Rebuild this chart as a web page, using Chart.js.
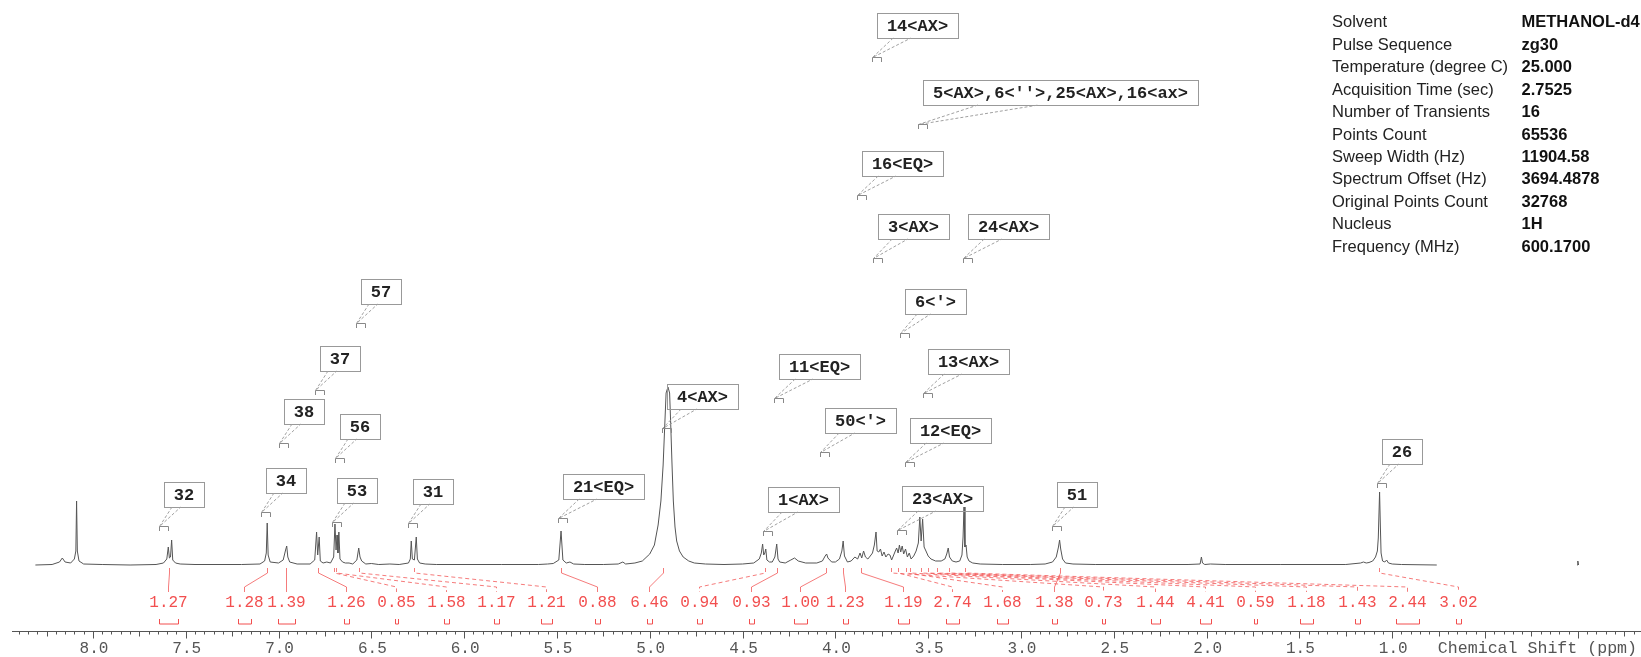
<!DOCTYPE html>
<html>
<head>
<meta charset="utf-8">
<title>1H NMR spectrum</title>
<script src="https://cdn.jsdelivr.net/npm/chart.js@4.4.1/dist/chart.umd.min.js"></script>
<style>
  html, body { margin: 0; padding: 0; background: #ffffff; }
  #wrap { width: 1641px; height: 657px; position: relative; }
</style>
</head>
<body>
<div id="wrap"><canvas id="nmr-chart" width="1641" height="657"></canvas></div>
<script>
// spectrum trace (ppm, intensity above baseline)
const shiftPpm = [
  8.31, 8.22, 8.18, 8.165, 8.15, 8.12, 8.10, 8.092, 8.088, 8.084, 8.075, 8.05, 7.95, 7.80,
  7.66, 7.62, 7.602, 7.594, 7.588, 7.582, 7.576, 7.570, 7.555, 7.53, 7.45, 7.20,
  7.10, 7.075, 7.066, 7.061, 7.056, 7.045, 7.00, 6.975, 6.962, 6.956, 6.950, 6.94, 6.90,
  6.83, 6.805, 6.795, 6.789, 6.781, 6.775, 6.76, 6.74, 6.72, 6.703, 6.696, 6.690, 6.685,
  6.680, 6.675, 6.669, 6.655, 6.64, 6.62, 6.60, 6.578, 6.568, 6.561, 6.552, 6.53, 6.50,
  6.46, 6.40, 6.35, 6.30, 6.290, 6.285, 6.279, 6.268, 6.258, 6.252, 6.24, 6.21, 6.15,
  5.80, 5.60, 5.55, 5.52, 5.49, 5.478, 5.468, 5.45, 5.43, 5.41, 5.35, 5.25, 5.17, 5.145,
  5.13, 5.08, 5.04, 5.00, 4.975, 4.955, 4.94, 4.928, 4.918, 4.912, 4.902, 4.893, 4.887,
  4.880, 4.873, 4.864, 4.855, 4.84, 4.82, 4.79, 4.76, 4.70, 4.60, 4.50, 4.44, 4.41,
  4.399, 4.392, 4.386, 4.380, 4.375, 4.369, 4.355, 4.34, 4.326, 4.316, 4.309, 4.30, 4.27,
  4.24, 4.22, 4.20, 4.16, 4.10, 4.07, 4.055, 4.047, 4.040, 4.02, 4.00, 3.978, 3.965,
  3.958, 3.951, 3.935, 3.915, 3.895, 3.880, 3.867, 3.858, 3.848, 3.838, 3.825, 3.812,
  3.800, 3.790, 3.781, 3.775, 3.766, 3.757, 3.748, 3.738, 3.728, 3.716, 3.706, 3.697,
  3.688, 3.677, 3.670, 3.662, 3.655, 3.648, 3.640, 3.632, 3.622, 3.612, 3.602, 3.592,
  3.578, 3.565, 3.553, 3.545, 3.538, 3.530, 3.522, 3.512, 3.500, 3.485, 3.46, 3.43, 3.41,
  3.400, 3.392, 3.385, 3.37, 3.35, 3.33, 3.318, 3.312, 3.307, 3.302, 3.296, 3.290, 3.280,
  3.26, 3.22, 3.10, 2.95, 2.87, 2.83, 2.810, 2.798, 2.792, 2.786, 2.776, 2.76, 2.72, 2.60,
  2.10, 2.035, 2.028, 2.022, 2.01, 1.98, 1.90, 1.60, 1.25, 1.17, 1.155, 1.14, 1.125, 1.105,
  1.090, 1.080, 1.075, 1.068, 1.064, 1.060, 1.052, 1.040, 1.030, 1.020, 1.00, 0.95, 0.76,
  0.40, 0.004, 0.000, -0.004
];
const intensity = [
  0, 0.5, 3, 7, 3, 2, 6, 14, 64, 14, 4, 1, 0.5, 0,
  0.5, 2, 6, 18, 7, 8, 25, 5, 2, 1, 0.5, 0.5,
  1, 4, 12, 42, 10, 3, 2, 5, 15, 19, 8, 3, 1,
  1, 5, 33, 10, 28, 4, 2, 3, 2, 8, 41, 15, 30,
  12, 33, 6, 3, 2, 2, 1, 5, 17, 8, 4, 1, 1.5,
  0.5, 1, 0.5, 2, 6, 24, 6, 5, 28, 6, 2, 1, 0.5,
  0.5, 0.5, 1, 1.5, 5, 34, 5, 2, 3, 1, 0.5, 0.5, 1, 3,
  1, 2, 4, 11, 20, 40, 64, 100, 145, 172, 178, 172, 140,
  100, 64, 38, 24, 14, 8, 4, 2, 1, 0.5, 1, 2, 6,
  12, 21, 10, 12, 16, 5, 3, 3, 8, 21, 6, 3, 2,
  5, 7, 4, 2, 2, 4, 9, 11, 7, 3, 3, 6, 14,
  24, 9, 3, 4, 8, 6, 12, 7, 14, 8, 6, 9,
  12, 20, 33, 14, 13, 16, 9, 13, 8, 11, 10, 5,
  9, 14, 17, 12, 20, 13, 19, 11, 16, 8, 12, 6,
  9, 14, 22, 48, 24, 46, 18, 14, 9, 6, 4, 4, 6,
  11, 17, 8, 4, 3, 4, 10, 28, 58, 18, 20, 8, 4,
  2, 1, 0.5, 0.5, 1, 3, 8, 18, 25, 16, 6, 2, 1, 0.5,
  0.5, 1, 8, 2, 0.5, 1, 0.5, 0.5, 0.5, 2, 3, 2, 2.5, 4,
  8, 14, 27, 73, 40, 12, 4, 3, 5, 2, 1, 0.5, 0,
  null, 0, 4, 0
];

// peak assignment labels: text and the point the callout points to (ppm, height)
const peakLabels = ['14<AX>', "5<AX>,6<''>,25<AX>,16<ax>", '16<EQ>', '3<AX>', '24<AX>', "6<'>",
  '57', '37', '38', '56', '34', '53', '31', '21<EQ>', '32', '4<AX>', '11<EQ>', "50<'>",
  '13<AX>', '12<EQ>', '1<AX>', '23<AX>', '51', '26'];
const peakLabelPpm = [3.804, 3.555, 3.885, 3.797, 3.312, 3.652, 6.583, 6.804, 6.998, 6.696,
  7.095, 6.714, 6.303, 5.495, 7.644, 4.936, 4.331, 4.083, 3.526, 3.625, 4.392, 3.670, 2.835, 1.080];
const peakLabelHeight = [508, 441, 370, 307, 307, 232, 242, 175, 122, 107, 53, 43, 42, 47, 39,
  137, 167, 113, 172, 103, 34, 35, 39, 82];

// integrals: value, centre of the integrated region, width of the region (ppm)
const integralValues = [1.27, 1.28, 1.39, 1.26, 0.85, 1.58, 1.17, 1.21, 0.88, 6.46, 0.94, 0.93,
  1.00, 1.23, 1.19, 2.74, 1.68, 1.38, 0.73, 1.44, 4.41, 0.59, 1.18, 1.43, 2.44, 3.02];
const integralCenterPpm = [7.59, 7.062, 6.96, 6.788, 6.70, 6.69, 6.567, 6.27, 5.476, 4.93, 4.38,
  4.312, 4.05, 3.96, 3.86, 3.66, 3.62, 2.79, 3.70, 3.60, 3.54, 3.50, 3.45, 3.39, 3.30, 1.07];
const integralWidthPpm = [0.106, 0.067, 0.092, 0.032, 0.015, 0.032, 0.032, 0.057, 0.027, 0.027,
  0.022, 0.030, 0.072, 0.032, 0.059, 0.074, 0.062, 0.032, 0.015, 0.051, 0.061, 0.016, 0.065,
  0.030, 0.122, 0.032];
// where each integral number is written along the axis (ppm)
const integralTextPpm = [7.596, 7.186, 6.962, 6.638, 6.365, 6.096, 5.827, 5.557, 5.284, 5.004,
  4.735, 4.456, 4.191, 3.946, 3.638, 3.369, 3.100, 2.822, 2.558, 2.278, 2.009, 1.739, 1.466,
  1.191, 0.921, 0.646];

// axis
const axisMin = -0.335;
const axisMax = 8.436;
const tickValues = [8.0, 7.5, 7.0, 6.5, 6.0, 5.5, 5.0, 4.5, 4.0, 3.5, 3.0, 2.5, 2.0, 1.5, 1.0];
const tickLabels = ['8.0', '7.5', '7.0', '6.5', '6.0', '5.5', '5.0', '4.5', '4.0', '3.5', '3.0',
  '2.5', '2.0', '1.5', '1.0'];
const axisTitle = 'Chemical Shift (ppm)';

// acquisition parameters
const paramNames = ['Solvent', 'Pulse Sequence', 'Temperature (degree C)', 'Acquisition Time (sec)',
  'Number of Transients', 'Points Count', 'Sweep Width (Hz)', 'Spectrum Offset (Hz)',
  'Original Points Count', 'Nucleus', 'Frequency (MHz)'];
const paramValues = ['METHANOL-d4', 'zg30', '25.000', '2.7525', '16', '65536', '11904.58',
  '3694.4878', '32768', '1H', '600.1700'];

const MONO = '"Liberation Mono", "DejaVu Sans Mono", monospace';
const SANS = '"Liberation Sans", Arial, sans-serif';
const RED = '#f24f4f';

const spectrumPoints = shiftPpm.map((p, i) => ({ x: p, y: intensity[i] }));

/**
 * Callout boxes with their leader lines
 */
function drawPeakLabels(chart) {
  const ctx = chart.ctx;
  const xs = chart.scales.x, ys = chart.scales.y;
  ctx.save();
  ctx.font = 'bold 17px ' + MONO;
  ctx.textAlign = 'center';
  ctx.textBaseline = 'middle';
  ctx.lineWidth = 1;
  peakLabels.forEach((text, i) => {
    const px = Math.round(xs.getPixelForValue(peakLabelPpm[i]));
    const py = Math.round(ys.getPixelForValue(peakLabelHeight[i]));
    const w = Math.round(ctx.measureText(text).width + 20);
    const h = 25;
    const left = px + 5, top = py - 44;

    ctx.setLineDash([]);
    ctx.strokeStyle = '#999';
    ctx.strokeRect(left + 0.5, top + 0.5, w, h);
    ctx.fillStyle = '#222';
    ctx.fillText(text, left + w / 2, top + h / 2 + 1);

    // leader
    ctx.strokeStyle = '#a0a0a0';
    ctx.setLineDash([3, 2]);
    ctx.beginPath();
    ctx.moveTo(left + w * 0.2, top + h);
    ctx.lineTo(px + 0.5, py + 0.5);
    ctx.lineTo(left + w * 0.42, top + h);
    ctx.stroke();

    // small group marker at the tip
    ctx.setLineDash([]);
    ctx.strokeStyle = '#888';
    ctx.beginPath();
    ctx.moveTo(px + 0.5, py + 5);
    ctx.lineTo(px + 0.5, py + 0.5);
    ctx.lineTo(px + 9.5, py + 0.5);
    ctx.lineTo(px + 9.5, py + 5);
    ctx.stroke();
  });
  ctx.restore();
}

/**
 * Red integral values, brackets and connector lines
 */
function drawIntegrals(chart) {
  const ctx = chart.ctx;
  const xs = chart.scales.x, ys = chart.scales.y;
  const base = ys.getPixelForValue(0);
  ctx.save();
  ctx.strokeStyle = RED;
  ctx.fillStyle = RED;
  ctx.lineWidth = 1;
  ctx.font = '16px ' + MONO;
  ctx.textAlign = 'center';
  ctx.textBaseline = 'middle';
  integralValues.forEach((v, i) => {
    const sx = Math.round(xs.getPixelForValue(integralCenterPpm[i])) + 0.5;
    const tx = Math.round(xs.getPixelForValue(integralTextPpm[i])) + 0.5;
    const dx = Math.abs(tx - sx);

    ctx.globalAlpha = 0.75;
    ctx.setLineDash(dx > 50 ? [4, 3] : []);
    ctx.beginPath();
    ctx.moveTo(sx, base + 3);
    ctx.lineTo(sx, base + 8);
    ctx.lineTo(tx, base + 22);
    ctx.lineTo(tx, base + 27);
    ctx.stroke();
    ctx.setLineDash([]);
    ctx.globalAlpha = 1;

    ctx.fillText(v.toFixed(2), tx, base + 38);

    // bracket showing the width of the integrated region
    const half = Math.max(1.5, Math.abs(xs.getPixelForValue(0) - xs.getPixelForValue(integralWidthPpm[i])) / 2);
    const bl = Math.round(tx - half) + 0.5, br = Math.round(tx + half) + 0.5;
    ctx.beginPath();
    ctx.moveTo(bl, base + 54);
    ctx.lineTo(bl, base + 59);
    ctx.lineTo(br, base + 59);
    ctx.lineTo(br, base + 54);
    ctx.stroke();
  });
  ctx.restore();
}

/**
 * Bottom ppm axis with minor ticks
 */
function drawAxis(chart) {
  const ctx = chart.ctx;
  const xs = chart.scales.x;
  const area = chart.chartArea;
  const y = area.bottom + 0.5;
  ctx.save();
  ctx.strokeStyle = '#555';
  ctx.lineWidth = 1;
  ctx.beginPath();
  ctx.moveTo(area.left, y);
  ctx.lineTo(area.right + 1, y);
  for (let k = Math.ceil(axisMin * 20); k <= Math.floor(axisMax * 20); k++) {
    const x = Math.round(xs.getPixelForValue(k / 20)) + 0.5;
    const len = k % 10 === 0 ? 7 : (k % 5 === 0 ? 5 : 3);
    ctx.moveTo(x, y);
    ctx.lineTo(x, y + len);
  }
  ctx.stroke();

  ctx.fillStyle = '#555';
  ctx.font = '16px ' + MONO;
  ctx.textAlign = 'center';
  ctx.textBaseline = 'middle';
  tickValues.forEach((v, i) => {
    ctx.fillText(tickLabels[i], xs.getPixelForValue(v) + 1, y + 17);
  });
  ctx.font = '16.6px ' + MONO;
  ctx.textAlign = 'right';
  ctx.fillText(axisTitle, area.right - 3, y + 17);
  ctx.restore();
}

/**
 * Parameter table in the upper right corner
 */
function drawParams(chart) {
  const ctx = chart.ctx;
  ctx.save();
  ctx.textBaseline = 'middle';
  ctx.textAlign = 'left';
  paramNames.forEach((name, i) => {
    const y = 22.7 + i * 22.46;
    ctx.fillStyle = '#222';
    ctx.font = '16.5px ' + SANS;
    ctx.fillText(name, 1332, y);
    ctx.fillStyle = '#111';
    ctx.font = 'bold 16.5px ' + SANS;
    ctx.fillText(paramValues[i], 1521.5, y);
  });
  ctx.restore();
}

const overlayPlugin = {
  id: 'nmrOverlay',
  afterDraw(chart) {
    drawAxis(chart);
    drawIntegrals(chart);
    drawPeakLabels(chart);
    drawParams(chart);
  }
};

const ctx = document.getElementById('nmr-chart').getContext('2d');
new Chart(ctx, {
  type: 'line',
  data: {
    datasets: [{
      label: '1H',
      data: spectrumPoints,
      borderColor: '#555555',
      borderWidth: 1,
      pointRadius: 0,
      tension: 0,
      spanGaps: false,
      fill: false
    }]
  },
  options: {
    responsive: false,
    animation: false,
    devicePixelRatio: 1,
    layout: { padding: { left: 12, right: 1, top: 0, bottom: 26 } },
    scales: {
      x: { type: 'linear', min: axisMin, max: axisMax, reverse: true, display: false },
      y: { type: 'linear', min: -66, max: 565, display: false }
    },
    plugins: {
      legend: { display: false },
      tooltip: { enabled: false }
    }
  },
  plugins: [overlayPlugin]
});
</script>
</body>
</html>
